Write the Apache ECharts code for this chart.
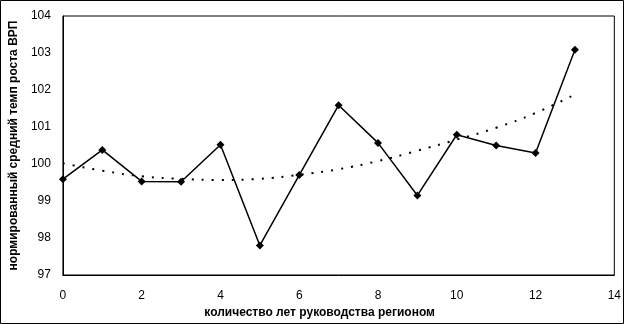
<!DOCTYPE html>
<html>
<head>
<meta charset="utf-8">
<script src="https://cdn.jsdelivr.net/npm/echarts@6/dist/echarts.min.js"></script>
<style>
  html, body { margin: 0; padding: 0; background: #fff; }
  #chart { width: 624px; height: 324px; }
</style>
</head>
<body>
<div id="chart"></div>
<script>
// годы руководства и нормированный темп роста
var years = [0, 1, 2, 3, 4, 5, 6, 7, 8, 9, 10, 11, 12, 13];
var growth = [99.59, 100.38, 99.53, 99.52, 100.52, 97.8, 99.7, 101.59, 100.57, 99.15, 100.79, 100.5, 100.3, 103.09];
// полиномиальный тренд
var trend = [100.02, 99.82, 99.67, 99.6, 99.57, 99.6, 99.71, 99.86, 100.08, 100.36, 100.66, 100.98, 101.38, 101.88];

var xTitle = 'количество лет руководства регионом';
var yTitle = 'нормированный средний темп роста ВРП';

var chart = echarts.init(document.getElementById('chart'));

var pairs = function (xs, ys) {
    var res = [];
    for (var i = 0; i < xs.length; i++) {
        res.push([xs[i], ys[i]]);
    }
    return res;
};

var option = {
    backgroundColor: '#fff',
    animation: false,
    textStyle: { fontFamily: 'Liberation Sans, Arial, sans-serif' },
    grid: {
        left: 62, top: 16, right: 8, bottom: 45,
        show: true, borderColor: '#000', borderWidth: 1
    },
    graphic: [{
        type: 'rect',
        shape: { x: 0.5, y: 0.5, width: 623, height: 323 },
        style: { fill: 'none', stroke: '#000', lineWidth: 1 },
        silent: true
    }],
    xAxis: {
        type: 'value', min: 0, max: 14, interval: 2,
        name: xTitle, nameLocation: 'middle', nameGap: 32,
        nameTextStyle: { color: '#000', fontSize: 12, fontWeight: 'bold', padding: [0, 38, 0, 0] },
        axisLine: { show: true, lineStyle: { color: '#000' } },
        axisTick: { show: false },
        splitLine: { show: false },
        axisLabel: { color: '#000', fontSize: 12, margin: 15 }
    },
    yAxis: {
        type: 'value', min: 97, max: 104, interval: 1,
        name: yTitle, nameLocation: 'middle', nameGap: 38,
        nameTextStyle: { color: '#000', fontSize: 12, fontWeight: 'bold' },
        axisLine: { show: true, lineStyle: { color: '#000' } },
        axisTick: { show: false },
        splitLine: { show: false },
        axisLabel: { color: '#000', fontSize: 12, margin: 12 }
    },
    series: [
        {
            type: 'line',
            data: pairs(years, trend),
            smooth: true,
            symbol: 'none',
            lineStyle: { color: '#000', width: 2, type: [2, 8] },
            z: 1
        },
        {
            type: 'line',
            data: pairs(years, growth),
            symbol: 'diamond',
            symbolSize: 8,
            itemStyle: { color: '#000' },
            lineStyle: { color: '#000', width: 1.5 },
            z: 2
        }
    ]
};
chart.setOption(option);
</script>
</body>
</html>
